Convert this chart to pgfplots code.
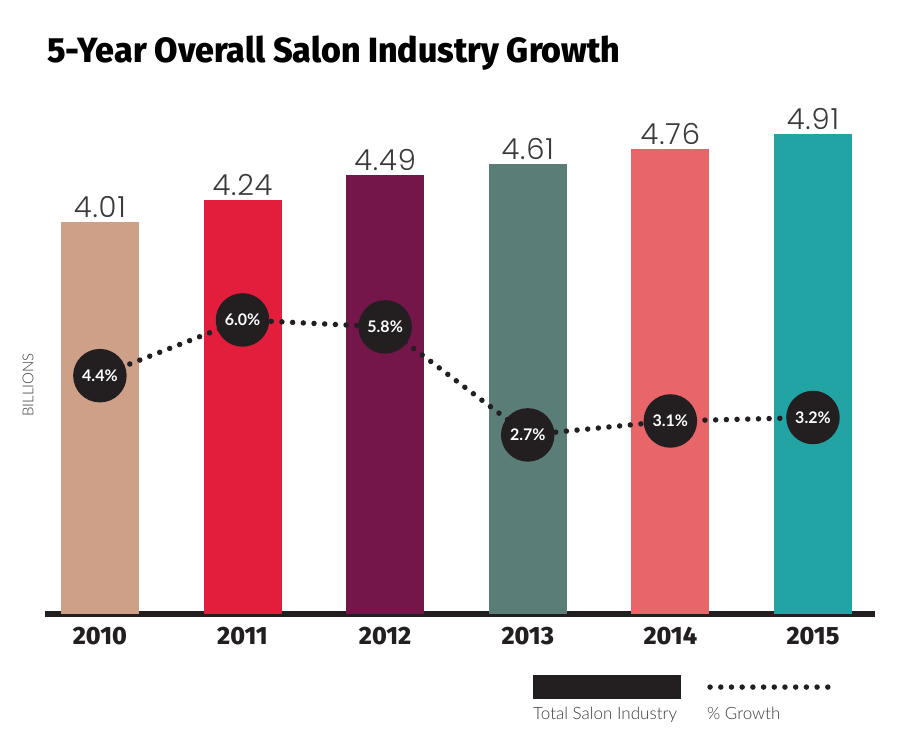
\documentclass[border=0pt]{standalone}
\usepackage{pgfplots}
\pgfplotsset{compat=1.18}
\usepackage{graphicx}
\usepackage{fontspec}
\setmainfont{Lato}
\newfontfamily\titlefont{Fira Sans}
\newfontfamily\heavyfont{Fira Sans ExtraBold}
\newfontfamily\valuefont{Poppins Light}[LetterSpace=3]
\newfontfamily\lightfont{Lato Light}

\definecolor{ink}{HTML}{231F20}
\definecolor{valgray}{HTML}{3A3A3A}
\definecolor{c2010}{HTML}{CFA088}
\definecolor{c2011}{HTML}{E31E3C}
\definecolor{c2012}{HTML}{74164A}
\definecolor{c2013}{HTML}{5B7D78}
\definecolor{c2014}{HTML}{E8666A}
\definecolor{c2015}{HTML}{22A3A4}

\pgfplotsset{
  /pgf/number format/assume math mode=true,
  frame/.style={
    scale only axis, width=830pt, height=524pt,
    at={(45pt,137pt)}, anchor=south west,
    xmin=-0.385, xmax=5.435, clip=false,
  },
  salonbar/.style={
    ybar, bar width=0.547, bar shift=0pt, draw=none, fill=#1,
    nodes near coords={\pgfmathprintnumber[fixed,fixed zerofill,precision=2]{\pgfplotspointmeta}},
    nodes near coords style={anchor=south, inner sep=0pt, yshift=4pt, text=valgray,
      font=\valuefont\fontsize{29}{29}\selectfont},
  },
}

\begin{document}
\begin{tikzpicture}
\useasboundingbox (0,0) rectangle (920pt,751pt);

% revenue bars, in billions
\begin{axis}[frame,
  ymin=0, ymax=5.363,
  axis x line=bottom, axis y line=none,
  axis line style={-, line width=6pt, ink},
  xtick={0,1,2,3,4,5},
  xticklabels={2010,2011,2012,2013,2014,2015},
  major tick length=0pt,
  xticklabel style={inner sep=0pt, yshift=-13pt, text=ink,
    font=\heavyfont\fontsize{25}{25}\selectfont},
  ytick=\empty,
]
\addplot[salonbar=c2010] coordinates {(0,4.01)};
\addplot[salonbar=c2011] coordinates {(1,4.24)};
\addplot[salonbar=c2012] coordinates {(2,4.49)};
\addplot[salonbar=c2013] coordinates {(3,4.61)};
\addplot[salonbar=c2014] coordinates {(4,4.76)};
\addplot[salonbar=c2015] coordinates {(5,4.91)};
\end{axis}

% year-over-year growth, in percent
\begin{axis}[frame,
  ymin=-2.44, ymax=12.6,
  axis lines=none,
  legend columns=2,
  legend style={draw=none, fill=none, inner sep=0pt,
    at={(0.588,-0.191)}, anchor=west,
    nodes={inner sep=0pt, text=valgray, font=\lightfont\fontsize{17}{17}\selectfont},
    /tikz/every even column/.append style={column sep=30pt}},
]
\addplot[ink, line width=5.5pt, line cap=round, dash pattern=on 0pt off 10.7pt,
  mark=*, mark size=24pt, mark options={solid, fill=ink, draw=none},
  nodes near coords={\pgfmathprintnumber[fixed,fixed zerofill,precision=1]{\pgfplotspointmeta}\%},
  nodes near coords style={anchor=center, text=white,
    font=\fontsize{16}{16}\selectfont\bfseries},
  forget plot]
  coordinates {(0,4.4) (1,6.0) (2,5.8) (3,2.7) (4,3.1) (5,3.2)};
\addlegendimage{legend image code/.code={
  \fill[ink, overlay] (0pt,16pt) rectangle (147pt,39pt);}}
\addlegendentry{Total Salon Industry}
\addlegendimage{legend image code/.code={
  \draw[ink, overlay, line width=5.5pt, line cap=round, dash pattern=on 0pt off 10.7pt]
    (3pt,27pt) -- (125pt,27pt);}}
\addlegendentry{\% Growth}
\end{axis}

\node[anchor=base west, inner sep=0pt] at (47pt,688pt)
  {\resizebox{573pt}{\height}{\heavyfont\fontsize{35}{35}\selectfont 5-Year Overall Salon Industry Growth}};
\node[rotate=90, inner sep=0pt, text=valgray] at (28pt,366pt)
  {\lightfont\fontsize{15}{15}\selectfont BILLIONS};
\end{tikzpicture}
\end{document}
